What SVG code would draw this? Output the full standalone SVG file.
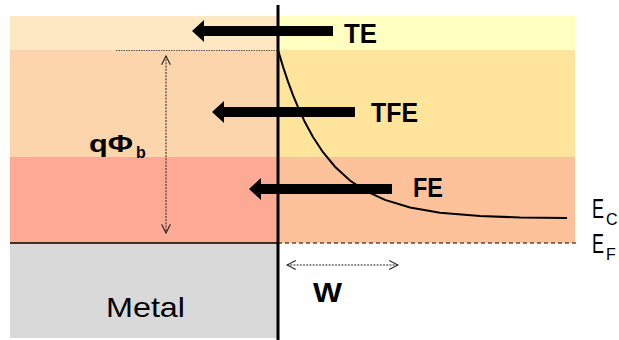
<svg xmlns="http://www.w3.org/2000/svg" width="619" height="340" viewBox="0 0 619 340">
<style>
text{font-family:"Liberation Sans",Arial,sans-serif;fill:#000}
.b{font-weight:bold}
.thick{fill:#000}
.dot{stroke:#222;stroke-width:1;stroke-dasharray:2 1.2;fill:none}
</style>
<defs>
<marker id="open" viewBox="0 0 10 10" refX="9" refY="5" markerWidth="11" markerHeight="11" markerUnits="userSpaceOnUse" orient="auto-start-reverse">
<path d="M1,1 L9,5 L1,9" fill="none" stroke="#222" stroke-width="1"/>
</marker>
</defs>
<g id="bands">
<rect x="10" y="16" width="268" height="34" fill="#FEE8C4"/>
<rect x="278" y="16" width="297" height="34" fill="#FFFFC1"/>
<rect x="10" y="50" width="268" height="107" fill="#FDD5AD"/>
<rect x="278" y="50" width="297" height="107" fill="#FEE59B"/>
<rect x="10" y="157" width="268" height="86" fill="#FCAA96"/>
<rect x="278" y="157" width="297" height="86" fill="#FDC29A"/>
<rect id="metal" x="10" y="243" width="268" height="95" fill="#D9D9D9"/>
</g>
<g id="lines">
<line x1="116" y1="50.5" x2="278" y2="50.5" stroke="#555" stroke-width="1" stroke-dasharray="1.5 1"/>
<line x1="10" y1="243" x2="278" y2="243" stroke="#000" stroke-width="1.3"/>
<line x1="278" y1="243" x2="577" y2="243" stroke="#000" stroke-width="1" stroke-dasharray="4 3"/>
<path id="ec" d="M278,50 L283,66.6 L288,81.6 L293,95.1 L298,107.2 L305,122.3 L313,137 L323,152.2 L335,166.7 L350,180.5 L365,190.6 L385,199.9 L410,207.5 L440,212.8 L480,216 L520,217.5 L567,218" fill="none" stroke="#000" stroke-width="2"/>
</g>
<g id="connectors">
<path class="thick" d="M192,31 L204,20 L204,26 L333,26 L333,36 L204,36 L204,42 Z"/>
<path class="thick" d="M212,112 L224,101 L224,107 L355,107 L355,117 L224,117 L224,123 Z"/>
<path class="thick" d="M249,189 L261,178 L261,184 L392,184 L392,194 L261,194 L261,200 Z"/>
<line class="dot" x1="166" y1="56" x2="166" y2="233" marker-start="url(#open)" marker-end="url(#open)"/>
<line class="dot" x1="287" y1="265" x2="398" y2="265" marker-start="url(#open)" marker-end="url(#open)"/>
</g>
<line id="interface" x1="278" y1="5" x2="278" y2="340" stroke="#000" stroke-width="3"/>
<g id="labels">
<text class="b" x="344" y="43" font-size="27" textLength="33" lengthAdjust="spacingAndGlyphs">TE</text>
<text class="b" x="371" y="122" font-size="27" textLength="47" lengthAdjust="spacingAndGlyphs">TFE</text>
<text class="b" x="413" y="197" font-size="27" textLength="30" lengthAdjust="spacingAndGlyphs">FE</text>
<text class="b" x="313" y="302" font-size="27" textLength="29" lengthAdjust="spacingAndGlyphs">W</text>
<text x="106" y="317" font-size="28" textLength="79" lengthAdjust="spacingAndGlyphs">Metal</text>
<text class="b" x="89" y="152" font-size="23"><tspan textLength="44" lengthAdjust="spacingAndGlyphs">qΦ</tspan><tspan x="136" dy="6" font-size="16">b</tspan></text>
<text x="592" y="218" font-size="27"><tspan textLength="12" lengthAdjust="spacingAndGlyphs">E</tspan><tspan x="606" dy="7" font-size="16">C</tspan></text>
<text x="592" y="253" font-size="27"><tspan textLength="12" lengthAdjust="spacingAndGlyphs">E</tspan><tspan x="606" dy="7" font-size="16">F</tspan></text>
</g>
</svg>
